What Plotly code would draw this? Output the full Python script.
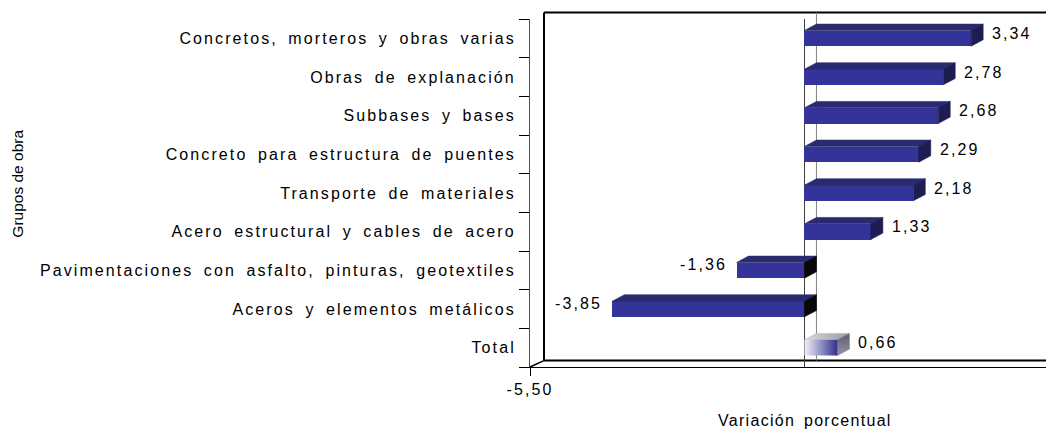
import plotly.graph_objects as go

# ---------------- data ----------------
categories = [
    "Total",
    "Aceros y elementos metálicos",
    "Pavimentaciones con asfalto, pinturas, geotextiles",
    "Acero estructural y cables de acero",
    "Transporte de materiales",
    "Concreto para estructura de puentes",
    "Subbases y bases",
    "Obras de explanación",
    "Concretos, morteros y obras varias",
]
values = [0.66, -3.85, -1.36, 1.33, 2.18, 2.29, 2.68, 2.78, 3.34]
x_tick_values = [-5.5]
x_tick_labels = ["-5,50"]
x_title = "Variación porcentual"
y_title = "Grupos de obra"

# ---------------- style ----------------
FONT = "Arial, Liberation Sans, sans-serif"
LS = "letter-spacing:2.1px;word-spacing:4px"
FRONT = "#333399"
TOP = "#2a2a70"
SIDE = "#1d1d52"
NEG_END = "#080808"
BW = 0.405          # bar thickness (category units)
DX = 0.24           # 3D depth in x (data units)
DY = 0.165          # 3D depth in y (category units)
XMIN, XMAX = -5.5, 5.0
WALL_DX, WALL_DY = 0.0267, 0.0184   # wall depth in paper units


def sp(t, style=LS):
    return f'<span style="{style}">{t}</span>'


ypos = list(range(len(categories)))
fmt = [f"{v:.2f}".replace(".", ",") for v in values]

fig = go.Figure()

top_x, top_y = [], []
side_x, side_y = [], []
neg_x, neg_y = [], []
tot_top_x, tot_top_y, tot_side_x, tot_side_y = [], [], [], []
tot_front_x, tot_front_y = [], []

for i, (c, v) in enumerate(zip(categories, values)):
    x0, x1 = min(0, v), max(0, v)
    yb, yt = i - BW / 2, i + BW / 2
    tx = [x0, x1, x1 + DX, x0 + DX, x0, None]
    ty = [yt, yt, yt + DY, yt + DY, yt, None]
    sx = [x1, x1 + DX, x1 + DX, x1, x1, None]
    sy = [yb, yb + DY, yt + DY, yt, yb, None]
    if c == "Total":
        tot_top_x += tx; tot_top_y += ty
        tot_side_x += sx; tot_side_y += sy
        tot_front_x += [x0, x1, x1, x0, x0]
        tot_front_y += [yb, yb, yt, yt, yb]
    else:
        top_x += tx; top_y += ty
        if v >= 0:
            side_x += sx; side_y += sy
        else:
            neg_x += sx; neg_y += sy


def poly(xs, ys, color, **kw):
    fig.add_trace(go.Scatter(x=xs, y=ys, mode="lines", fill="toself",
                             fillcolor=color, line=dict(color=color, width=0.6),
                             hoverinfo="skip", showlegend=False, **kw))


poly(top_x, top_y, TOP)
poly(side_x, side_y, SIDE)
poly(neg_x, neg_y, NEG_END)
poly(tot_top_x, tot_top_y, "#b8b8c0",
     fillgradient=dict(type="horizontal", colorscale=[[0, "#d8d8dc"], [1, "#9a9aa4"]]))
poly(tot_side_x, tot_side_y, "#7c7c8c",
     fillgradient=dict(type="vertical", colorscale=[[0, "#9494a4"], [1, "#5c5c70"]]))

# front faces of the groups
gx = [v for c, v in zip(categories, values) if c != "Total"]
gy = [i for i, c in enumerate(categories) if c != "Total"]
fig.add_trace(go.Bar(x=gx, y=gy, orientation="h", width=BW,
                     marker=dict(color=FRONT, line=dict(width=0)),
                     hoverinfo="skip", showlegend=False))
# front face of total with gradient
fig.add_trace(go.Scatter(x=tot_front_x, y=tot_front_y, mode="lines", fill="toself",
                         fillcolor=FRONT, line=dict(width=0),
                         fillgradient=dict(type="horizontal",
                                           colorscale=[[0, "#f2f2f8"], [1, "#2f2f92"]]),
                         hoverinfo="skip", showlegend=False))

# value labels
for i, v in enumerate(values):
    if v >= 0:
        fig.add_annotation(x=v + DX, y=i, xref="x", yref="y", text=sp(fmt[i]),
                           showarrow=False, xanchor="left", xshift=7, yshift=5,
                           font=dict(family=FONT, size=16, color="black"))
    else:
        fig.add_annotation(x=v, y=i, xref="x", yref="y", text=sp(fmt[i]),
                           showarrow=False, xanchor="right", xshift=-8, yshift=6,
                           font=dict(family=FONT, size=16, color="black"))

# titles
fig.add_annotation(x=0.525, y=-0.155, xref="paper", yref="paper",
                   text=sp(x_title, "letter-spacing:1.3px;word-spacing:3px"), showarrow=False,
                   xanchor="center", yanchor="middle",
                   font=dict(family=FONT, size=16, color="black"))
fig.add_annotation(x=-0.977, y=0.527, xref="paper", yref="paper", text=y_title,
                   textangle=-90, showarrow=False, xanchor="center", yanchor="middle",
                   font=dict(family=FONT, size=15.5, color="black"))

# back wall / floor (chart frame)
wall = dict(color="black", width=2)
fig.add_shape(type="line", xref="paper", yref="paper", x0=WALL_DX, x1=WALL_DX,
              y0=WALL_DY, y1=1 + WALL_DY, line=wall, layer="below")
fig.add_shape(type="line", xref="paper", yref="paper", x0=WALL_DX, x1=1.0,
              y0=1 + WALL_DY, y1=1 + WALL_DY, line=wall, layer="below")
fig.add_shape(type="line", xref="paper", yref="paper", x0=WALL_DX, x1=1.0,
              y0=WALL_DY, y1=WALL_DY, line=wall, layer="below")
fig.add_shape(type="line", xref="paper", yref="paper", x0=0, x1=WALL_DX,
              y0=0, y1=WALL_DY, line=dict(color="black", width=1.5), layer="below")
# back zero line
fig.add_shape(type="line", xref="x", yref="paper", x0=DX, x1=DX,
              y0=WALL_DY, y1=1 + WALL_DY, line=dict(color="#808080", width=1), layer="below")

# the page body has an 8px margin, so the figure is 8px smaller than the window
fig.update_layout(
    width=1046, height=423,
    margin=dict(l=522, r=0, t=11, b=64),
    paper_bgcolor="white", plot_bgcolor="white",
    showlegend=False, bargap=0,
    font=dict(family=FONT, size=16, color="black"),
    xaxis=dict(range=[XMIN, XMAX], showgrid=False,
               zeroline=True, zerolinecolor="#404040", zerolinewidth=1,
               showline=True, linecolor="black", linewidth=1,
               tickmode="array", tickvals=x_tick_values,
               ticktext=[sp(t) for t in x_tick_labels],
               ticks="outside", ticklen=8, tickcolor="black",
               tickfont=dict(family=FONT, size=16, color="black")),
    yaxis=dict(range=[-0.5, len(categories) - 0.5], showgrid=False, zeroline=False,
               showline=True, linecolor="#505050", linewidth=1,
               tickmode="array", tickvals=ypos,
               ticktext=[sp(c) for c in categories],
               ticks="outside", ticklen=10, tickcolor="rgba(0,0,0,0)",
               tickfont=dict(family=FONT, size=16, color="black"),
               minor=dict(tickmode="array",
                          tickvals=[k - 0.5 for k in range(len(categories) + 1)],
                          ticks="outside", ticklen=10, tickcolor="black",
                          showgrid=False)),
)

fig.write_html("out.html")
